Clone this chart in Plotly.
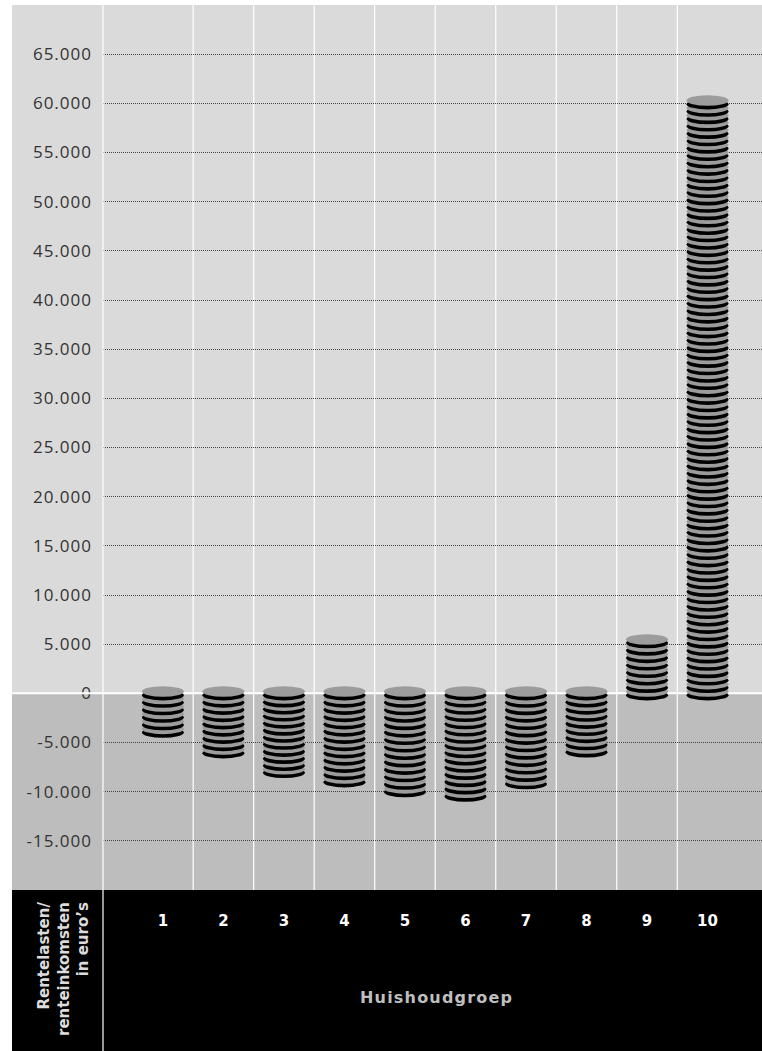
import numpy as np
import plotly.graph_objects as go

# ---- data ----
categories = ["1", "2", "3", "4", "5", "6", "7", "8", "9", "10"]
values = [-3800, -5900, -7900, -8850, -9850, -10300, -9050, -5800, 5300, 60100]
y_tickvals = list(range(-15000, 65001, 5000))
y_ticktext = [f"{v:,}".replace(",", ".") for v in y_tickvals]
x_title = "Huishoudgroep"
y_title_lines = ["Rentelasten/", "renteinkomsten", "in euro’s"]

# ---- layout constants ----
W, H = 762, 1051
ML, MR, MT, MB = 103, 0, 5, 161
plot_w = W - ML - MR
plot_h = H - MT - MB
y_min, y_max = -20000, 70000
x_min, x_max = -0.99, 9.9

LIGHT = "#dadada"
DARK = "#bdbdbd"
COIN = "#9c9c9c"


def spaced(t, px):
    return f'<span style="letter-spacing:{px}px">{t}</span>'


upp_y = (y_max - y_min) / plot_h  # data units per pixel (y)
upp_x = (x_max - x_min) / plot_w
left_px = 12
x_left_paper = -(ML - left_px) / plot_w
zero_frac = (0 - y_min) / (y_max - y_min)
band_bottom = -MB / plot_h

shapes = []
# backgrounds
shapes.append(dict(type="rect", xref="paper", yref="paper", x0=x_left_paper, x1=1,
                   y0=zero_frac, y1=1, fillcolor=LIGHT, line_width=0, layer="below"))
shapes.append(dict(type="rect", xref="paper", yref="paper", x0=x_left_paper, x1=1,
                   y0=0, y1=zero_frac, fillcolor=DARK, line_width=0, layer="below"))
shapes.append(dict(type="rect", xref="paper", yref="paper", x0=x_left_paper, x1=1,
                   y0=band_bottom, y1=0, fillcolor="black", line_width=0, layer="below"))
# vertical white separators between categories
for i in range(len(categories) - 1):
    shapes.append(dict(type="line", xref="x", yref="paper", x0=i + 0.5, x1=i + 0.5,
                       y0=0, y1=1, line=dict(color="white", width=1.2), layer="below"))
# left separator through whole height
shapes.append(dict(type="line", xref="paper", yref="paper", x0=0, x1=0,
                   y0=band_bottom, y1=1, line=dict(color="white", width=1.2), layer="above"))
# zero line
shapes.append(dict(type="line", xref="paper", yref="paper", x0=x_left_paper, x1=1,
                   y0=zero_frac, y1=zero_frac, line=dict(color="white", width=2), layer="above"))

# coins
half_w = 21 * upp_x
coin_h = 10.5 * upp_y
rim = 3.6 * upp_y
pitch = 750
for i, v in enumerate(values):
    n = int(round(abs(v) / pitch)) + 1
    centers = np.sort(np.linspace(0, v, n))
    for c in centers:
        shapes.append(dict(type="circle", xref="x", yref="y",
                           x0=i - half_w, x1=i + half_w,
                           y0=c - coin_h / 2 - rim / 2, y1=c + coin_h / 2 - rim / 2,
                           fillcolor="black", line_width=0, layer="above"))
        shapes.append(dict(type="circle", xref="x", yref="y",
                           x0=i - half_w, x1=i + half_w,
                           y0=c - coin_h / 2 + rim / 2, y1=c + coin_h / 2 + rim / 2,
                           fillcolor=COIN, line_width=0, layer="above"))

fig = go.Figure()
# invisible trace to establish axes
fig.add_trace(go.Scatter(x=list(range(len(categories))), y=values, mode="markers",
                         marker=dict(opacity=0), hoverinfo="skip", showlegend=False))

fig.update_layout(
    width=W, height=H,
    margin=dict(l=ML, r=MR, t=MT, b=MB, pad=0),
    paper_bgcolor="white",
    plot_bgcolor="rgba(0,0,0,0)",
    shapes=shapes,
    showlegend=False,
    xaxis=dict(range=[x_min, x_max], tickvals=list(range(len(categories))),
               ticktext=categories, showgrid=False, zeroline=False, showline=False,
               ticks="", ticklabelstandoff=20,
               tickfont=dict(family="DejaVu Sans", size=15, color="white", weight="bold")),
    yaxis=dict(range=[y_min, y_max], tickvals=y_tickvals,
               ticktext=[spaced(t, 1) for t in y_ticktext],
               showgrid=True, gridcolor="#444444", gridwidth=1, griddash="1px,1px",
               zeroline=False, showline=False, ticks="", ticklabelstandoff=10,
               tickfont=dict(family="Open Sans", size=17, color="#333333")),
    annotations=[
        dict(text=spaced(x_title, 1.2), xref="paper", yref="paper", x=(436 - ML) / plot_w,
             y=-(997 - (H - MB)) / plot_h, xanchor="center", yanchor="middle",
             showarrow=False,
             font=dict(family="DejaVu Sans", size=16, color="#bfbfbf", weight="bold")),
        dict(text="<br>".join(y_title_lines), xref="paper", yref="paper", x=-(ML - 63) / plot_w,
             y=-(969 - (H - MB)) / plot_h, xanchor="center", yanchor="middle",
             textangle=-90, align="right", showarrow=False,
             font=dict(family="DejaVu Sans", size=15, color="#dcdcdc", weight="bold")),
    ],
)

fig.write_html("out.html")
